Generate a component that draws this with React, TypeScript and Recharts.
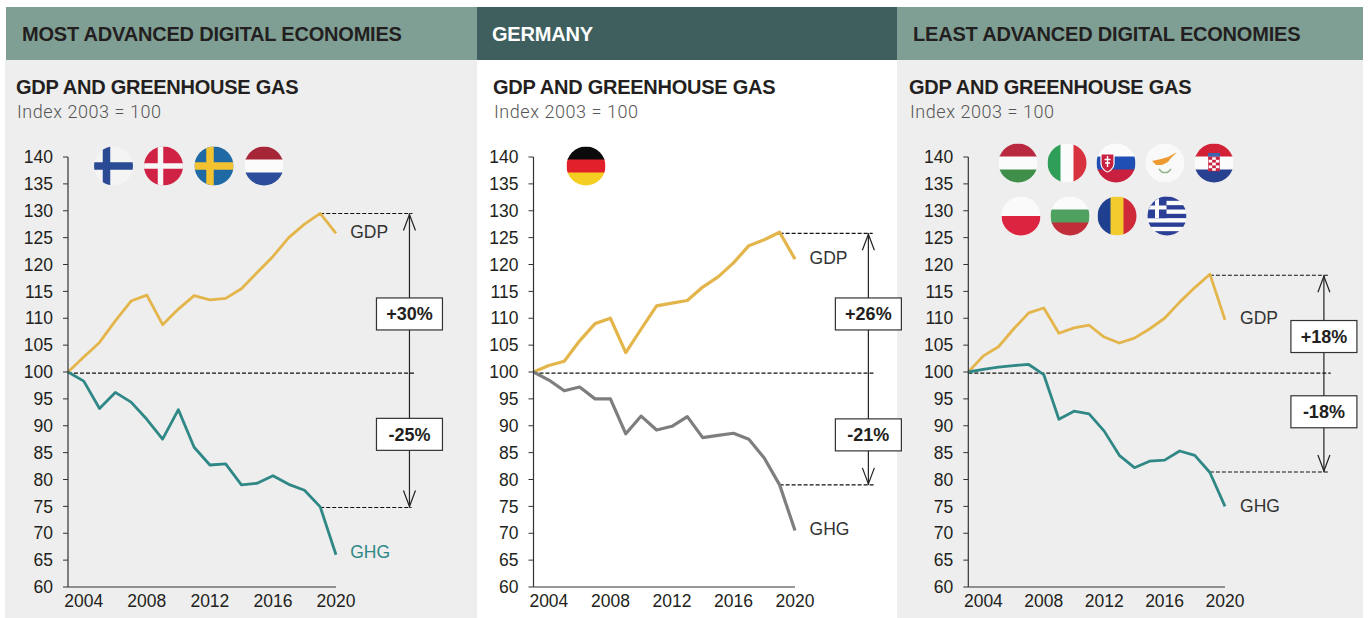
import React from "react";
import { LineChart, Line, XAxis, YAxis, ReferenceLine, ReferenceDot } from "recharts";

const YEARS = [2003, 2004, 2005, 2006, 2007, 2008, 2009, 2010, 2011, 2012, 2013, 2014, 2015, 2016, 2017, 2018, 2019, 2020];
const X_TICKS = [2004, 2008, 2012, 2016, 2020];
const Y_TICKS = [60, 65, 70, 75, 80, 85, 90, 95, 100, 105, 110, 115, 120, 125, 130, 135, 140];

const MOST_GDP = [100, 102.8, 105.5, 109.5, 113.2, 114.3, 108.8, 111.7, 114.2, 113.4, 113.7, 115.5, 118.5, 121.5, 125, 127.5, 129.5, 125.8];
const MOST_GHG = [100, 98.3, 93.2, 96.2, 94.4, 91.2, 87.5, 93, 86, 82.7, 82.9, 79, 79.3, 80.7, 79.1, 78, 74.9, 66];
const GER_GDP = [100, 101.2, 102, 105.8, 109, 110, 103.6, 108, 112.3, 112.8, 113.3, 115.8, 117.7, 120.3, 123.5, 124.6, 126, 121];
const GER_GHG = [100, 98.5, 96.5, 97.2, 95, 95, 88.5, 91.8, 89.2, 89.9, 91.7, 87.8, 88.2, 88.6, 87.5, 84, 79, 70.5];
const LEAST_GDP = [100, 103, 104.7, 108, 111, 111.9, 107.2, 108.2, 108.7, 106.5, 105.4, 106.3, 108, 110, 113, 115.7, 118.2, 109.7];
const LEAST_GHG = [100, 100.5, 100.9, 101.2, 101.4, 99.5, 91.2, 92.7, 92.2, 89, 84.5, 82.2, 83.4, 83.6, 85.3, 84.5, 81.3, 75];

const FONT = "'Liberation Sans', Arial, sans-serif";
const INK = "#231f20";
const GOLD = "#e3b54a";
const TEAL = "#2f8886";
const GREY = "#7c7f7e";

const rows = (gdp: number[], ghg: number[]) => YEARS.map((year, i) => ({ year, gdp: gdp[i], ghg: ghg[i] }));

const PANELS = [
  {
    header: "MOST ADVANCED DIGITAL ECONOMIES", left: 5, right: 477, headLeft: 6, headBg: "#7f9f95", headInk: INK, bg: "#eeeeee", headX: 22, titleX: 16,
    axisX: 68, endX: 336, data: rows(MOST_GDP, MOST_GHG), ghgColor: TEAL, ghgLabel: TEAL, width: 2.8,
    top: 129.5, bottom: 74.8, arrowX: 2024.66, hiDashEnd: 2024.85, zeroEnd: 2025, loDashEnd: 2024.8,
    gdpLabel: [2020.9, 126], ghgLabelAt: [2020.9, 66.5], boxes: [["+30%", 110.8], ["-25%", 88.4]],
  },
  {
    header: "GERMANY", left: 477, right: 897, headLeft: 477, headBg: "#3e5f5e", headInk: "#ffffff", bg: "#ffffff", headX: 492, titleX: 493,
    axisX: 533.5, endX: 795, data: rows(GER_GDP, GER_GHG), ghgColor: GREY, ghgLabel: "#333333", width: 3.2,
    top: 125.8, bottom: 79, arrowX: 2024.77, hiDashEnd: 2025.05, zeroEnd: 2025.1, loDashEnd: 2025.2,
    gdpLabel: [2020.95, 121.3], ghgLabelAt: [2020.95, 70.8], boxes: [["+26%", 110.8], ["-21%", 88.3]],
  },
  {
    header: "LEAST ADVANCED DIGITAL ECONOMIES", left: 897, right: 1363, headLeft: 897, headBg: "#7f9f95", headInk: INK, bg: "#eeeeee", headX: 913, titleX: 909,
    axisX: 968.3, endX: 1225, data: rows(LEAST_GDP, LEAST_GHG), ghgColor: TEAL, ghgLabel: "#333333", width: 2.8,
    top: 118, bottom: 81.4, arrowX: 2026.55, hiDashEnd: 2026.9, zeroEnd: 2027, loDashEnd: 2026.9,
    gdpLabel: [2021, 110], ghgLabelAt: [2021, 75], boxes: [["+18%", 106.6], ["-18%", 92.6]],
  },
];

const PLOT_TOP = 157;
const PLOT_BOTTOM = 587;
const CHART_TOP = 130;
const PAGE_H = 618;
const CHART_EXTRA = 12;

function Panel({ p }: { p: (typeof PANELS)[number] }) {
  const w = p.right - p.left;
  const yW = 50;
  const dash = (x1: number, x2: number, y: number, key: string) => (
    <ReferenceLine key={key} ifOverflow="visible" stroke="#111" strokeWidth={1.1} strokeDasharray="4 2"
      segment={[{ x: x1, y }, { x: x2, y }]} />
  );
  const label = (t: string, at: number[], color: string) => (
    <ReferenceDot key={t} x={at[0]} y={at[1]} r={0} ifOverflow="visible"
      shape={(s: any) => (
        <text x={s.cx} y={s.cy} dy={6} fontFamily={FONT} fontSize={17.5} fill={color}>{t}</text>
      )} />
  );
  return (
    <>
      <div style={{ position: "absolute", left: p.left, top: 60, width: w, height: PAGE_H - 60, background: p.bg }} />
      <div style={{ position: "absolute", left: p.headLeft, top: 7, width: p.right - p.headLeft, height: 53, background: p.headBg }} />
      <div style={{ position: "absolute", left: p.headX, top: 22, fontFamily: FONT, fontWeight: 700, fontSize: 20, lineHeight: "24px", color: p.headInk, whiteSpace: "nowrap", letterSpacing: -0.2 }}>{p.header}</div>
      <div style={{ position: "absolute", left: p.titleX, top: 75, fontFamily: FONT, fontWeight: 700, fontSize: 20, lineHeight: "24px", color: INK, whiteSpace: "nowrap", letterSpacing: -0.25 }}>GDP AND GREENHOUSE GAS</div>
      <div style={{ position: "absolute", left: p.titleX + 1, top: 101, fontFamily: "Roboto, sans-serif", fontWeight: 300, fontSize: 18, lineHeight: "22px", color: "#555", whiteSpace: "nowrap", letterSpacing: 0.55 }}>Index 2003 = 100</div>
      <div style={{ position: "absolute", left: p.left, top: CHART_TOP, zIndex: 1 }}>
        <LineChart width={w + CHART_EXTRA} height={PAGE_H - CHART_TOP} data={p.data}
          margin={{ left: p.axisX - p.left - yW, right: p.right + CHART_EXTRA - p.endX, top: PLOT_TOP - CHART_TOP, bottom: PAGE_H - PLOT_BOTTOM - 30 }}>
          <XAxis dataKey="year" type="number" domain={[2003, 2020]} ticks={X_TICKS} interval={0} height={30}
            tickSize={0} tickMargin={8} tick={{ fontFamily: FONT, fontSize: 17.5, fill: INK }}
            axisLine={{ stroke: "#333", strokeWidth: 1.2 }} />
          <YAxis type="number" domain={[60, 140]} ticks={Y_TICKS} interval={0} width={yW}
            tickSize={5} tickMargin={10} tick={{ fontFamily: FONT, fontSize: 17.5, fill: INK }}
            axisLine={{ stroke: "#333", strokeWidth: 1.2 }} tickLine={{ stroke: "#333", strokeWidth: 1 }} />
          {dash(2003, p.zeroEnd, 99.8, "zero")}
          {dash(2019, p.hiDashEnd, p.top, "hi")}
          {dash(2019, p.loDashEnd, p.bottom, "lo")}
          <ReferenceLine ifOverflow="visible" stroke="#222" strokeWidth={1.2}
            segment={[{ x: p.arrowX, y: p.bottom }, { x: p.arrowX, y: p.top }]} />
          <ReferenceDot x={p.arrowX} y={p.top} r={0} ifOverflow="visible"
            shape={(s: any) => <path d={`M${s.cx - 6} ${s.cy + 17}L${s.cx} ${s.cy + 1}L${s.cx + 6} ${s.cy + 17}`} fill="none" stroke="#222" strokeWidth={1.2} />} />
          <ReferenceDot x={p.arrowX} y={p.bottom} r={0} ifOverflow="visible"
            shape={(s: any) => <path d={`M${s.cx - 6} ${s.cy - 17}L${s.cx} ${s.cy - 1}L${s.cx + 6} ${s.cy - 17}`} fill="none" stroke="#222" strokeWidth={1.2} />} />
          {p.boxes.map(([t, v]) => (
            <ReferenceDot key={t as string} x={p.arrowX} y={v as number} r={0} ifOverflow="visible"
              shape={(s: any) => (
                <g>
                  <rect x={s.cx - 33} y={s.cy - 16} width={66} height={32} fill="#fff" stroke="#333" strokeWidth={1.2} />
                  <text x={s.cx} y={s.cy} dy={6.5} textAnchor="middle" fontFamily={FONT} fontWeight={700} fontSize={18} fill={INK}>{t}</text>
                </g>
              )} />
          ))}
          {label("GDP", p.gdpLabel, "#333333")}
          {label("GHG", p.ghgLabelAt, p.ghgLabel)}
          <Line dataKey="gdp" stroke={GOLD} strokeWidth={p.width} dot={false} isAnimationActive={false} strokeLinejoin="round" />
          <Line dataKey="ghg" stroke={p.ghgColor} strokeWidth={p.width} dot={false} isAnimationActive={false} strokeLinejoin="round" />
        </LineChart>
      </div>
    </>
  );
}

const WHITE = "#fbfbfb";
const YELLOW = "#f2cb2e";
const R = 19.5;

const stripesH = (cols: string[]) => cols.map((c, i) => (
  <rect key={i} x={-R} y={-R + (i * 2 * R) / cols.length} width={2 * R} height={(2 * R) / cols.length + 0.5} fill={c} />
));
const stripesV = (cols: string[]) => cols.map((c, i) => (
  <rect key={i} y={-R} x={-R + (i * 2 * R) / cols.length} height={2 * R} width={(2 * R) / cols.length + 0.5} fill={c} />
));
const cross = (c: string, bg: string, t: number, vx: number) => (
  <>
    <rect x={-R} y={-R} width={2 * R} height={2 * R} fill={bg} />
    <rect x={-R} y={-t / 2} width={2 * R} height={t} fill={c} />
    <rect x={vx - t / 2} y={-R} width={t} height={2 * R} fill={c} />
  </>
);

const FLAG_ART: Record<string, React.ReactNode> = {
  fi: cross("#2a4a94", "#f4f4f4", 7.5, -7),
  dk: cross("#f7f7f7", "#cf2245", 5.5, -3),
  se: cross("#f2c230", "#1f6aa5", 7.5, -4),
  nl: stripesH(["#a62638", WHITE, "#2b4d9b"]),
  de: stripesH(["#0b0b0b", "#e2202a", "#f4cf21"]),
  hu: stripesH(["#b9293f", WHITE, "#3f8f4a"]),
  it: stripesV(["#2f9e58", WHITE, "#d9323f"]),
  sk: (
    <>
      {stripesH([WHITE, "#1f4fb5", "#c9203f"])}
      <path d="M-15 -9h13v10c0 5-6 8-6.5 8s-6.5-3-6.5-8z" fill="#c9203f" stroke="#fff" strokeWidth={1.2} />
      <path d="M-8.5 -7v11M-11.5 -3.5h6M-11 0h5" stroke="#fff" strokeWidth={1.4} />
    </>
  ),
  cy: (
    <>
      <rect x={-R} y={-R} width={2 * R} height={2 * R} fill="#f9f9f9" />
      <path d="M-13 -2L-4 -4L3 -6L12 -11L6 -5L3 -1L-3 2L-9 2z" fill="#ee9a32" />
      <path d="M-6 6q4 5 6 3M6 6q-4 5-6 3" stroke="#93b58c" strokeWidth={1.6} fill="none" />
    </>
  ),
  hr: (
    <>
      {stripesH(["#d32238", WHITE, "#27408f"])}
      <rect x={-5.5} y={-6} width={11} height={14} fill={WHITE} stroke="#c9203f" strokeWidth={0.6} />
      {[0, 1, 2, 3, 4].map((r) => [0, 1, 2].map((c) => ((r + c) % 2 === 0
        ? <rect key={`${r}${c}`} x={-5.5 + c * 3.67} y={-6 + r * 2.8} width={3.67} height={2.8} fill="#c9203f" /> : null)))}
      <rect x={-6} y={-10} width={12} height={3.5} fill="#3a66b0" />
    </>
  ),
  pl: stripesH(["#fafafa", "#dc2440"]),
  bg: stripesH([WHITE, "#4fa160", "#c22d3a"]),
  ro: stripesV(["#1f3f8f", YELLOW, "#cf2a3a"]),
  gr: (
    <>
      {stripesH(["#2a3f95", WHITE, "#2a3f95", WHITE, "#2a3f95", WHITE, "#2a3f95", WHITE, "#2a3f95"])}
      <rect x={-R} y={-R} width={19} height={21.7} fill="#2a3f95" />
      <rect x={-R} y={-10.5} width={19} height={4} fill={WHITE} />
      <rect x={-12} y={-R} width={4} height={21.7} fill={WHITE} />
    </>
  ),
};

const FLAG_SPOTS: [string, number, number][] = [
  ["fi", 113.5, 166], ["dk", 163.5, 166], ["se", 214, 166], ["nl", 264, 166],
  ["de", 586, 166],
  ["hu", 1018, 163], ["it", 1067, 163], ["sk", 1116, 163], ["cy", 1165, 163], ["hr", 1214, 163],
  ["pl", 1021, 216], ["bg", 1070, 216], ["ro", 1117, 216], ["gr", 1167, 216],
];

function Flags() {
  return (
    <svg width={1368} height={618} style={{ position: "absolute", left: 0, top: 0, pointerEvents: "none", zIndex: 2 }}>
      <defs>
        <clipPath id="disc"><circle r={R} /></clipPath>
      </defs>
      {FLAG_SPOTS.map(([k, x, y]) => (
        <g key={k} transform={`translate(${x} ${y})`}>
          <g clipPath="url(#disc)">{FLAG_ART[k]}</g>
        </g>
      ))}
    </svg>
  );
}

export default function App() {
  return (
    <div style={{ position: "absolute", left: 0, top: 0, width: 1368, height: 618, overflow: "hidden", background: "#fff" }}>
      {PANELS.map((p) => <Panel key={p.header} p={p} />)}
      <Flags />
    </div>
  );
}
